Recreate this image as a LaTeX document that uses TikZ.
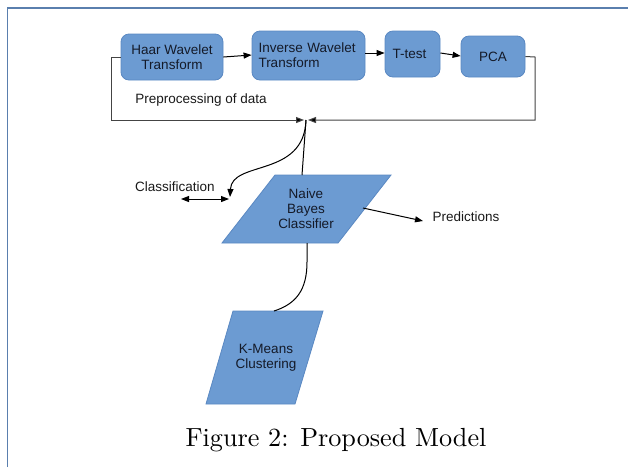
\documentclass[tikz,border=0pt]{standalone}
\usepackage{fontspec}
\setmainfont{Latin Modern Roman}
\newfontfamily\capfont{lmroman10-regular}[Extension=.otf]
\newfontfamily\diagfont{Liberation Sans}
\usetikzlibrary{arrows.meta}
\definecolor{boxfill}{HTML}{6C9BD2}
\definecolor{boxline}{HTML}{5A88C2}
\definecolor{boxtext}{HTML}{141A28}
\definecolor{framecol}{HTML}{5A7FAE}
\definecolor{loopcol}{HTML}{444444}
\tikzset{headtip/.tip={Triangle[length=8pt,width=6pt,fill=black]}}
\begin{document}
\begin{tikzpicture}[x=1pt,y=-1pt,
  stepbox/.style={draw=boxline, fill=boxfill, rounded corners=8pt, line width=0.8pt,
    font=\diagfont\fontsize{13.5}{15}\selectfont, text=boxtext, inner sep=0pt, align=center},
  para/.style={draw=boxline, fill=boxfill, line width=0.8pt},
  paratext/.style={font=\diagfont\fontsize{13.5}{15}\selectfont, text=boxtext, align=center, inner sep=0pt},
  label/.style={font=\diagfont\fontsize{13.5}{15}\selectfont, text=black!90, inner sep=0pt},
  flow/.style={line width=1pt, -headtip},
  wire/.style={line width=1pt, draw=loopcol},
]
\useasboundingbox (0,0) rectangle (628,467);

% outer frame (top and left edges)
\draw[framecol, line width=1.6pt] (7.5,467) -- (7.5,8) -- (628,8);

% preprocessing pipeline
\node[stepbox, minimum width=102pt, minimum height=46pt] (haar) at (172,57) {Haar Wavelet\\Transform};
\node[stepbox, minimum width=113pt, minimum height=49pt, text width=100pt, align=left] (inv) at (308.5,55.5)
  {\raisebox{2pt}{\parbox{100pt}{Inverse Wavelet\\Transform}}};
\node[stepbox, minimum width=55pt, minimum height=46pt] (ttest) at (412.5,54) {T-test\hspace{6pt}};
\node[stepbox, minimum width=64pt, minimum height=41pt] (pca) at (493,56.5) {PCA};

\draw[flow] (haar.east) -- (inv.west |- 0,55);
\draw[flow] (inv.east |- 0,53) -- (ttest.west |- 0,53);
\draw[flow] (ttest.east |- 0,53) -- (pca.west |- 0,56);

\node[label] (pre) at (201,100) {Preprocessing of data};

% feedback loop joining below the pipeline
\coordinate (J) at (306,120);
\coordinate (Jl) at (304,120);
\coordinate (Jr) at (308,120);
\draw[wire, -headtip] (haar.west) -- (111,57) -- (111,120) -- (Jl);
\draw[wire, -headtip] (pca.east) -- (535,57) -- (535,120) -- (Jr);

% Naive Bayes classifier
\draw[para] (275,175) -- (391,175) -- (338,243) -- (222,243) -- cycle;
\node[paratext] (nb) at (306,209) {Naive\\Bayes\\Classifier};
\coordinate (nbtop) at (302,175);
\coordinate (nbright) at (363,208);
\coordinate (nbbot) at (307,243);

\draw[line width=1pt] (J) -- (nbtop);

% classification branch
\node[label] (cls) at (175,187) {Classification};
\coordinate (cl) at (181,199);
\coordinate (cr) at (229,199);
\draw[line width=1pt, headtip-headtip] (cl) -- (cr);
\draw[flow] (J) .. controls (304,178) and (232,160) .. (230,197);

% predictions branch
\node[label] (pred) at (466,217) {Predictions};
\draw[flow] (nbright) -- (423,221);

% K-Means clustering
\draw[para] (233,311) -- (323,311) -- (295,404) -- (206,404) -- cycle;
\node[paratext] (km) at (266,358) {K-Means\\Clustering};
\coordinate (kmtop) at (274,311);
\draw[line width=1pt] (nbbot) -- (307,262) .. controls (307,290) and (296,304) .. (kmtop);

% caption
\node[font=\capfont\fontsize{26.2}{31}\selectfont, inner sep=0pt] (cap) at (336,440) {Figure 2: Proposed Model};
\end{tikzpicture}
\end{document}
